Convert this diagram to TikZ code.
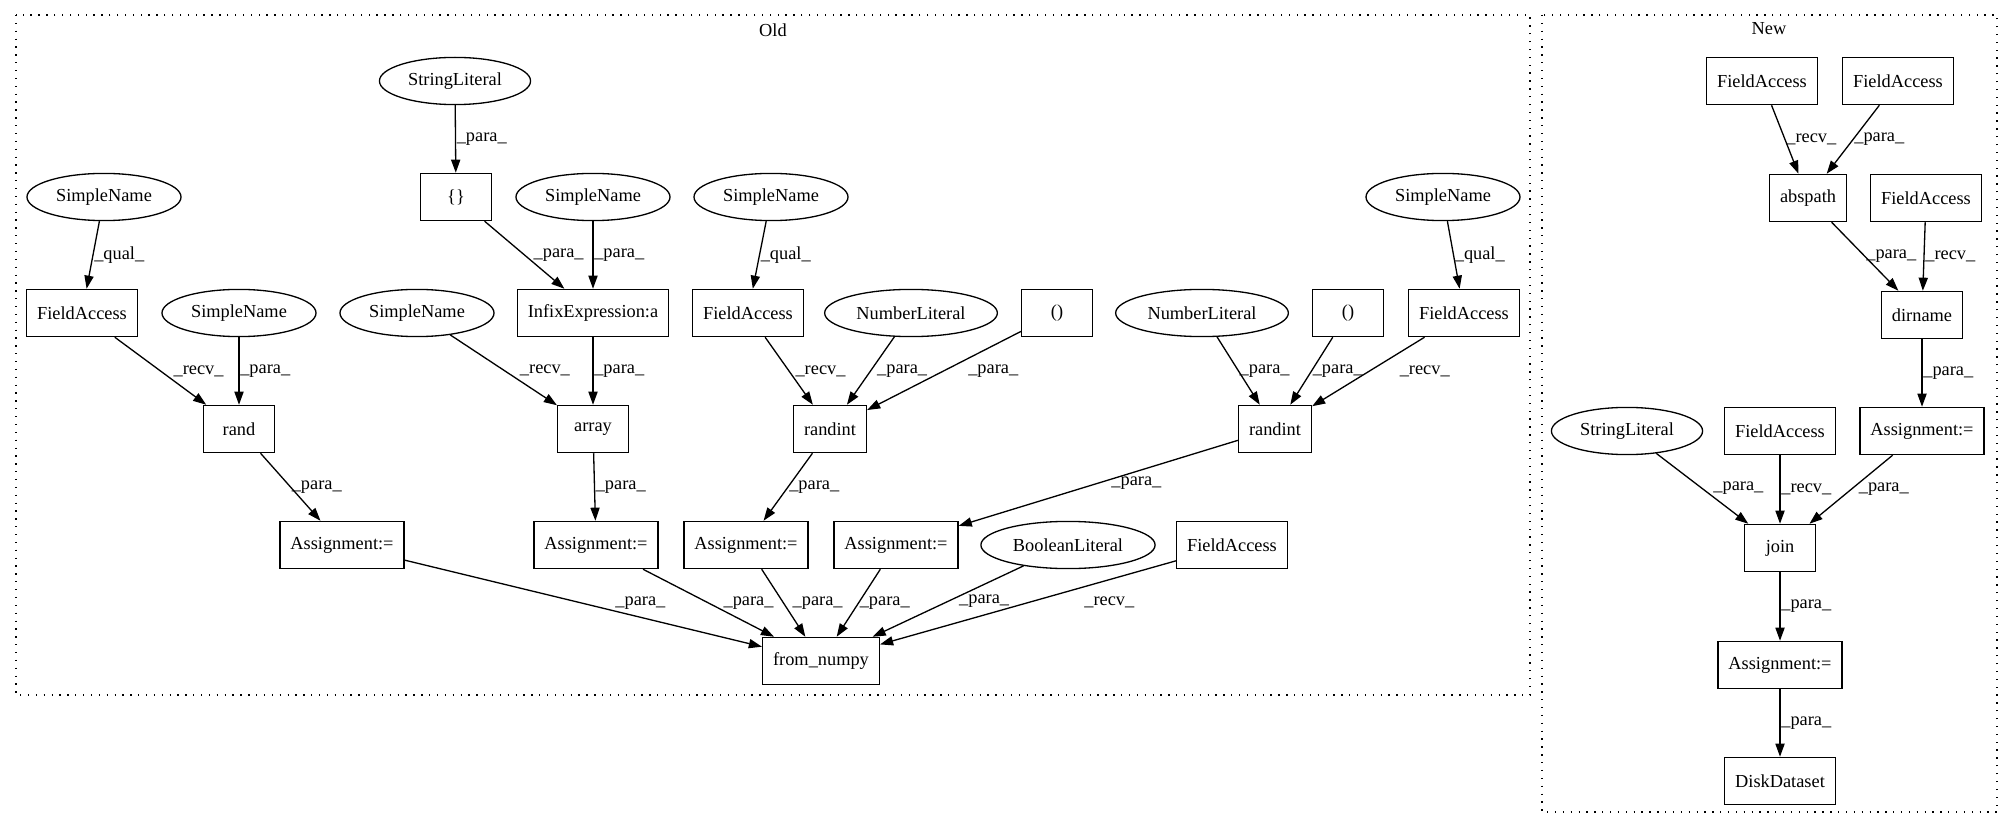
\documentclass[tikz,border=0pt]{standalone}
\usepackage{fontspec}
\setmainfont{Liberation Serif}
\usetikzlibrary{arrows.meta,shapes.geometric}

\begin{document}
\begin{tikzpicture}[x=0.763pt,y=-0.763pt,font=\fontsize{14pt}{16pt}\selectfont]
\tikzstyle{box}=[draw,rectangle,line width=1pt,minimum width=54pt,minimum height=36pt,inner xsep=8pt]
\tikzstyle{oval}=[draw,ellipse,line width=1pt,minimum height=36pt,inner xsep=5pt]
\tikzstyle{edge}=[line width=1pt,-{Triangle[length=10pt,width=7pt]}]
\tikzstyle{lbl}=[midway,anchor=west,inner sep=0.5pt]
\tikzstyle{cluster}=[line width=1pt,dash pattern=on 1pt off 5pt]
\useasboundingbox (0,0) rectangle (2012,828);
% clusters
\draw[cluster] (16,15) rectangle (1530,695);
\draw[cluster] (1542,15) rectangle (1997,812);
\node (old) at (773,30) {Old};
\node (new) at (1769,29) {New};
% old
\foreach \name/\point/\txt in {
	strlit/{455,81}/StringLiteral,
	snA/{104,197}/SimpleName,
	snB/{593,197}/SimpleName,
	snC/{771,197}/SimpleName,
	snD/{1443,197}/SimpleName,
	snE/{239,313}/SimpleName,
	snF/{417,313}/SimpleName,
	numA/{911,313}/NumberLiteral,
	numB/{1202,313}/NumberLiteral,
	bool/{1068,545}/BooleanLiteral}
	\node[oval] (\name) at (\point) {\txt};
\foreach \name/\point/\txt in {
	braces/{456,197}/{\{\}},
	faA/{82,313}/FieldAccess,
	infix/{593,313}/{InfixExpression:a},
	faB/{748,313}/FieldAccess,
	parA/{1057,313}/{()},
	parB/{1348,313}/{()},
	faC/{1464,313}/FieldAccess,
	rand/{239,429}/rand,
	array/{593,429}/array,
	rintA/{830,429}/randint,
	rintB/{1275,429}/randint,
	asgA/{342,545}/{Assignment:=},
	asgB/{596,545}/{Assignment:=},
	asgC/{746,545}/{Assignment:=},
	asgD/{896,545}/{Assignment:=},
	faD/{1232,545}/FieldAccess,
	fromnp/{821,661}/{from\_numpy}}
	\node[box] (\name) at (\point) {\txt};
\draw[edge] (strlit) -- (braces) node[lbl] {\_para\_};
\draw[edge] (snA) -- (faA) node[lbl] {\_qual\_};
\draw[edge] (braces) -- (infix) node[lbl,xshift=6pt] {\_para\_};
\draw[edge] (snB) -- (infix) node[lbl] {\_para\_};
\draw[edge] (faA) -- (rand) node[lbl,xshift=9pt] {\_recv\_};
\draw[edge] (snE) -- (rand) node[lbl] {\_para\_};
\draw[edge] (snF) -- (array) node[lbl,xshift=11.5pt] {\_recv\_};
\draw[edge] (infix) -- (array) node[lbl] {\_para\_};
\draw[edge] (snC) -- (faB) node[lbl] {\_qual\_};
\draw[edge] (faB) -- (rintA) node[lbl,xshift=4pt] {\_recv\_};
\draw[edge] (numA) -- (rintA) node[lbl,xshift=4pt] {\_para\_};
\draw[edge] (parA) -- (rintA) node[lbl,xshift=17.5pt] {\_para\_};
\draw[edge] (numB) -- (rintB) node[lbl] {\_para\_};
\draw[edge] (parB) -- (rintB) node[lbl] {\_para\_};
\draw[edge] (faC) -- (rintB) node[lbl,xshift=23pt] {\_recv\_};
\draw[edge] (snD) -- (faC) node[lbl] {\_qual\_};
\draw[edge] (rand) -- (asgA) node[lbl] {\_para\_};
\draw[edge] (array) -- (asgB) node[lbl] {\_para\_};
\draw[edge] (rintA) -- (asgC) node[lbl] {\_para\_};
\draw[edge] (rintB) -- (asgD) node[lbl,xshift=9pt] {\_para\_};
\draw[edge] (asgA) -- (fromnp) node[lbl,xshift=23.5pt] {\_para\_};
\draw[edge] (asgB) -- (fromnp) node[lbl,xshift=10.5pt] {\_para\_};
\draw[edge] (asgC) -- (fromnp) node[lbl,xshift=6pt] {\_para\_};
\draw[edge] (asgD) -- (fromnp) node[lbl] {\_para\_};
\draw[edge] (bool) -- (fromnp) node[lbl,xshift=7.5pt] {\_para\_};
\draw[edge] (faD) -- (fromnp) node[lbl,xshift=42pt] {\_recv\_};
% new
\node[oval] (nstr) at (1627,431) {StringLiteral};
\foreach \name/\point/\txt in {
	nfaA/{1762,81}/FieldAccess,
	nfaB/{1898,81}/FieldAccess,
	abspath/{1808,198}/abspath,
	nfaC/{1926,198}/FieldAccess,
	dirname/{1922,315}/dirname,
	nasgA/{1922,431}/{Assignment:=},
	nfaD/{1780,431}/FieldAccess,
	join/{1780,548}/join,
	nasgB/{1780,665}/{Assignment:=},
	disk/{1780,781}/DiskDataset}
	\node[box] (\name) at (\point) {\txt};
\draw[edge] (nfaA) -- (abspath) node[lbl] {\_recv\_};
\draw[edge] (nfaB) -- (abspath) node[lbl] {\_para\_};
\draw[edge] (abspath) -- (dirname) node[lbl] {\_para\_};
\draw[edge] (nfaC) -- (dirname) node[lbl] {\_recv\_};
\draw[edge] (dirname) -- (nasgA) node[lbl] {\_para\_};
\draw[edge] (nstr) -- (join) node[lbl,xshift=7.5pt] {\_para\_};
\draw[edge] (nfaD) -- (join) node[lbl] {\_recv\_};
\draw[edge] (nasgA) -- (join) node[lbl,xshift=5pt] {\_para\_};
\draw[edge] (join) -- (nasgB) node[lbl] {\_para\_};
\draw[edge] (nasgB) -- (disk) node[lbl] {\_para\_};
\end{tikzpicture}
\end{document}
